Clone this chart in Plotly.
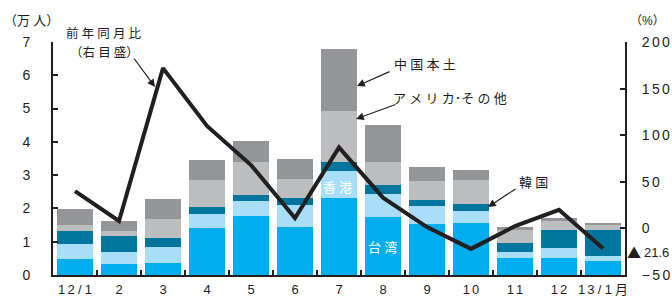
import plotly.graph_objects as go

months = ["12/1", "2", "3", "4", "5", "6", "7", "8", "9", "10", "11", "12", "13/1月"]
month_labels = ["1\u20062\u2005/\u20051", "2", "3", "4", "5", "6", "7", "8", "9", "1\u20060",
                "1\u20061", "1\u20062", "1\u20063\u2005/\u20051\u2005月"]

taiwan = [0.49, 0.34, 0.37, 1.42, 1.78, 1.45, 2.32, 1.75, 1.54, 1.57, 0.52, 0.52, 0.43]
hongkong = [0.45, 0.36, 0.48, 0.42, 0.45, 0.66, 0.81, 0.69, 0.54, 0.36, 0.18, 0.30, 0.15]
korea = [0.39, 0.48, 0.27, 0.21, 0.18, 0.21, 0.27, 0.27, 0.18, 0.21, 0.27, 0.54, 0.78]
us_other = [0.18, 0.15, 0.57, 0.81, 0.99, 0.57, 1.54, 0.69, 0.57, 0.72, 0.39, 0.27, 0.15]
china = [0.47, 0.30, 0.60, 0.60, 0.63, 0.60, 1.86, 1.11, 0.42, 0.30, 0.09, 0.09, 0.06]
yoy = [40, 8, 172, 110, 68, 11, 87, 33, 1.4, -22, 2.5, 20, -21.6]

left_ticks = [0, 1, 2, 3, 4, 5, 6, 7]
right_ticks = [-50, 0, 50, 100, 150, 200]
right_labels = ["\u2212\u20065\u20060", "0", "5\u20060", "1\u20060\u20060", "1\u20065\u20060", "2\u20060\u20060"]

FONT = "Liberation Sans, Arial, Noto Sans CJK JP, sans-serif"
JP = "Noto Sans CJK JP, Liberation Sans, sans-serif"
INK = "#231F20"

fig = go.Figure()
series = [
    ("台湾", taiwan, "#00ADEE"),
    ("香港", hongkong, "#A9DEF8"),
    ("韓国", korea, "#00769F"),
    ("アメリカ・その他", us_other, "#BCBDBF"),
    ("中国本土", china, "#939598"),
]
for name, vals, col in series:
    fig.add_trace(go.Bar(x=months, y=vals, name=name, marker=dict(color=col, line=dict(width=0))))

fig.add_trace(go.Scatter(x=months, y=yoy, yaxis="y2", mode="lines",
                         line=dict(color=INK, width=4), name="前年同月比"))

L, R, T, B = 53, 625, 42, 275
W, H = R - L, B - T

def px(x):
    return (x - L) / W

def py(y):
    return (B - y) / H

ann = []

def text(x, y, s, color=INK, size=13, xanchor="center", family=JP):
    ann.append(dict(x=px(x), y=py(y), xref="paper", yref="paper", text=s, showarrow=False,
                    xanchor=xanchor, yanchor="middle", font=dict(family=family, size=size, color=color)))

def arrow(x0, y0, x1, y1):
    ann.append(dict(x=px(x1), y=py(y1), xref="paper", yref="paper", text="", showarrow=True,
                    ax=x0 - x1, ay=y0 - y1, arrowhead=2, arrowsize=1.3, arrowwidth=1.2,
                    arrowcolor=INK))

sp = "\u2005"
text(31, 19, "（万" + sp + "人）")
text(647, 21, "（%）", family=FONT, size=12)
text(104, 32, sp.join("前年同月比"), size=12.5)
text(104, 51, "（" + sp.join("右目盛") + "）", size=12.5)
arrow(133, 57, 155, 87)
text(425, 63, sp.join("中国本土"))
arrow(391, 71, 357, 86)
text(450, 97, sp.join("アメリカ") + "･" + sp.join("その他"))
arrow(397, 104, 356, 119)
text(337, 186, sp.join("香港"), color="white")
text(382, 246, sp.join("台湾"), color="white")
text(533, 181, sp.join("韓国"))
arrow(517, 188, 488, 207)
ann.append(dict(x=px(643), y=py(252), xref="paper", yref="paper", text="▲", showarrow=False,
                xanchor="right", yanchor="middle", font=dict(family=JP, size=14, color=INK)))
ann.append(dict(x=px(642), y=py(252), xref="paper", yref="paper", text="21.6",
                showarrow=False, xanchor="left", yanchor="middle",
                font=dict(family=FONT, size=13, color=INK)))

fig.update_layout(
    width=672, height=297,
    margin=dict(l=L, r=672 - R, t=T, b=297 - B, autoexpand=False),
    paper_bgcolor="white", plot_bgcolor="white",
    barmode="stack", bargap=0.18,
    showlegend=False,
    font=dict(family=FONT, size=14, color=INK),
    annotations=ann,
    xaxis=dict(type="category", tickmode="array", tickvals=months, ticktext=month_labels,
               tickson="boundaries", ticks="inside", ticklen=5, tickwidth=1.5, tickcolor=INK,
               showline=True, linecolor=INK, linewidth=2, showgrid=False, zeroline=False,
               range=[-0.5, 12.5], ticklabelstandoff=1, tickangle=0, automargin=False,
               tickfont=dict(size=13)),
    yaxis=dict(range=[0, 7], tickvals=left_ticks, ticks="inside", ticklen=5, tickwidth=1.5,
               tickcolor=INK, showline=True, linecolor=INK, linewidth=2, showgrid=False,
               zeroline=False, ticklabelstandoff=18, automargin=False),
    yaxis2=dict(range=[-50, 200], overlaying="y", side="right", tickvals=right_ticks,
                ticktext=right_labels, ticks="inside", ticklen=5, tickwidth=1.5, tickcolor=INK,
                showline=True, linecolor=INK, linewidth=2, showgrid=False, zeroline=False,
                ticklabelstandoff=12, automargin=False),
)

fig.write_html("out.html", config={"displayModeBar": False},
               post_script="document.body.style.margin='0';document.body.style.overflow='hidden';")
